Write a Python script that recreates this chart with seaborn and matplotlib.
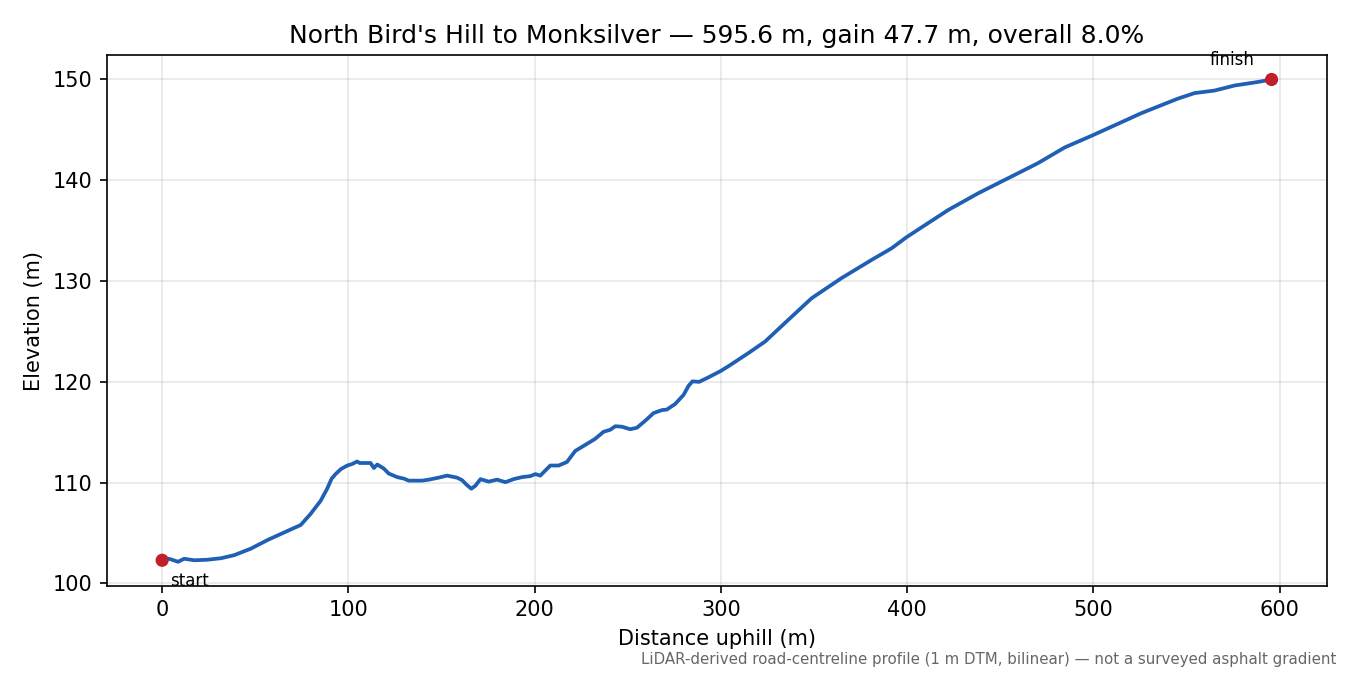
import matplotlib
matplotlib.use("Agg")
import matplotlib.pyplot as plt
import seaborn as sns
import pandas as pd

# --- profile data ---
distance_m = [0, 3.7, 8.6, 11.8, 17.2, 24, 31.5, 38.6, 47.6, 56.5, 65.4, 74.4, 79.7,
              85.1, 88.6, 91, 93.1, 96, 99.4, 102, 104.7, 106, 108.3, 111.9, 113.7,
              115.5, 119, 121.7, 126.2, 129.8, 132.4, 139.6, 143.2, 148.5, 153, 158.3,
              161, 163.7, 166, 168.2, 170.9, 175.3, 179.8, 184.3, 188.7, 193.2, 197.7,
              200.4, 203, 208.4, 212.9, 217.3, 221.8, 227.2, 232.5, 237, 240.6, 243.3,
              246.8, 251.3, 254.9, 259.4, 263.8, 268.3, 270.9, 275.4, 279.9, 282.6,
              284.7, 288.3, 293.3, 299.6, 304, 314.7, 323.7, 334.4, 348.7, 364.8,
              380.9, 391.6, 399.6, 422, 438, 459.5, 470.2, 484.5, 499.4, 516.7, 525.6,
              545.3, 554.3, 565, 575.7, 588.2, 595.6]
elevation_m = [102.3, 102.45, 102.15, 102.45, 102.3, 102.35, 102.5, 102.8, 103.45,
               104.3, 105.05, 105.8, 106.9, 108.2, 109.4, 110.4, 110.85, 111.35, 111.7,
               111.85, 112.1, 111.95, 111.95, 111.95, 111.45, 111.8, 111.4, 110.9,
               110.55, 110.4, 110.2, 110.2, 110.3, 110.5, 110.7, 110.5, 110.25, 109.75,
               109.4, 109.7, 110.35, 110.1, 110.3, 110.05, 110.35, 110.55, 110.65,
               110.85, 110.7, 111.7, 111.7, 112.05, 113.15, 113.75, 114.35, 115.05,
               115.25, 115.6, 115.55, 115.3, 115.45, 116.15, 116.9, 117.2, 117.25,
               117.8, 118.7, 119.6, 120.05, 120.0, 120.45, 121.05, 121.55, 122.85,
               124.0, 125.85, 128.3, 130.3, 132.1, 133.25, 134.35, 137.05, 138.7,
               140.7, 141.7, 143.25, 144.45, 145.9, 146.65, 148.1, 148.65, 148.9,
               149.4, 149.75, 150.0]

endpoint_labels = ["start", "finish"]

df = pd.DataFrame({"Distance": distance_m, "Elevation": elevation_m})
ends = df.iloc[[0, -1]].reset_index(drop=True)
ends["label"] = endpoint_labels

fig, ax = plt.subplots(figsize=(9, 4.5), dpi=150)
fig.subplots_adjust(left=0.079, right=0.983, top=0.918, bottom=0.132)

sns.lineplot(data=df, x="Distance", y="Elevation", color="#1f5fb4", linewidth=1.8, ax=ax)
sns.scatterplot(data=ends, x="Distance", y="Elevation", color="#c0202a", s=40,
                edgecolor="none", zorder=5, ax=ax)

# endpoint labels
ax.annotate(ends.loc[0, "label"], (ends.loc[0, "Distance"], ends.loc[0, "Elevation"]),
            xytext=(4, -5.5), textcoords="offset points", ha="left", va="top", fontsize=8)
ax.annotate(ends.loc[1, "label"], (ends.loc[1, "Distance"], ends.loc[1, "Elevation"]),
            xytext=(-8, 5), textcoords="offset points", ha="right", va="bottom", fontsize=8)

ax.grid(alpha=0.3)
ax.set_xlabel("Distance uphill (m)")
ax.set_ylabel("Elevation (m)")
ax.set_title("North Bird's Hill to Monksilver \u2014 595.6 m, gain 47.7 m, overall 8.0%")

fig.text(0.99, 0.012, "LiDAR-derived road-centreline profile (1 m DTM, bilinear) \u2014 not a surveyed asphalt gradient",
         ha="right", va="bottom", fontsize=7.2, color="#666666")

fig.savefig("out.png", dpi=150)
